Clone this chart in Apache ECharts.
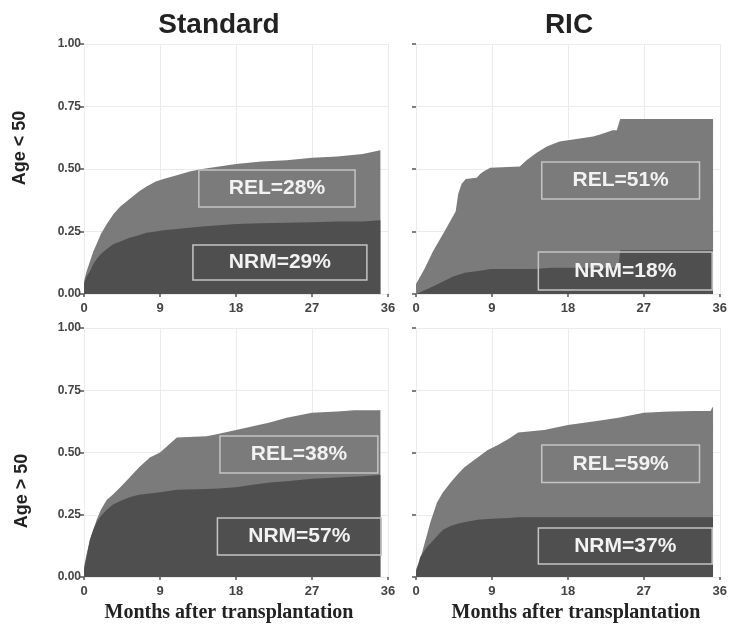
<!DOCTYPE html>
<html>
<head>
<meta charset="utf-8">
<script src="https://cdn.jsdelivr.net/npm/echarts@6/dist/echarts.min.js"></script>
<style>html,body{margin:0;padding:0;background:#fff}#c{width:730px;height:626px}</style>
</head>
<body>
<div id="c"></div>
<script>
// ---- data (months after transplantation, cumulative incidence) ----
var xTicks = [0, 9, 18, 27, 36];
var yTicks = [0, 0.25, 0.5, 0.75, 1];
var colTitles = ['Standard', 'RIC'];
var rowTitles = ['Age < 50', 'Age > 50'];
var xTitle = 'Months after transplantation';

// Standard, Age < 50  (top = NRM + REL, nrm = NRM)
var monthsTopA = [0, 0.3, 0.7, 1.1, 1.5, 2, 2.7, 3.5, 4.3, 5.4, 6.5, 7.4, 8.5, 9.4, 11, 12.5, 14, 16, 18, 21, 24, 27, 30, 33, 35.1];
var topA       = [0.05, 0.09, 0.13, 0.17, 0.20, 0.24, 0.28, 0.32, 0.35, 0.38, 0.41, 0.43, 0.45, 0.46, 0.475, 0.49, 0.50, 0.51, 0.52, 0.53, 0.535, 0.545, 0.55, 0.56, 0.575];
var monthsNrmA = [0, 0.3, 0.7, 1.1, 1.5, 2, 2.7, 3.5, 4.3, 5.4, 6.5, 7.4, 8.5, 9.4, 11, 12.5, 14, 16, 18, 21, 24, 27, 30, 33, 35.1];
var nrmA       = [0.04, 0.07, 0.09, 0.12, 0.14, 0.16, 0.18, 0.20, 0.21, 0.225, 0.235, 0.245, 0.25, 0.255, 0.26, 0.265, 0.27, 0.275, 0.28, 0.283, 0.285, 0.287, 0.29, 0.29, 0.295];

// RIC, Age < 50
var monthsTopB = [0, 1, 2, 3.2, 4.2, 4.7, 5.0, 5.4, 5.9, 7.2, 7.6, 8.0, 8.8, 12.3, 13.1, 14.3, 15.5, 17, 19, 21, 22, 23.3, 23.8, 24.2, 35.2];
var topB       = [0.04, 0.10, 0.17, 0.24, 0.30, 0.33, 0.40, 0.44, 0.46, 0.465, 0.48, 0.49, 0.505, 0.51, 0.535, 0.565, 0.59, 0.61, 0.62, 0.63, 0.64, 0.655, 0.655, 0.70, 0.70];
var monthsNrmB = [0, 1, 2, 3.2, 4.4, 5.8, 8, 8.8, 14, 16, 24, 24.2, 35.2];
var nrmB       = [0, 0.015, 0.03, 0.05, 0.07, 0.085, 0.095, 0.10, 0.10, 0.105, 0.105, 0.175, 0.175];

// Standard, Age > 50
var monthsTopC = [0, 0.3, 0.7, 1.1, 1.5, 2, 2.7, 3.4, 4.3, 5.4, 6.5, 7.8, 9, 10, 11, 14.5, 16, 18, 20, 22, 24, 25.5, 27, 30, 32, 35.1];
var topC       = [0.04, 0.09, 0.15, 0.19, 0.23, 0.27, 0.31, 0.33, 0.36, 0.40, 0.44, 0.48, 0.50, 0.53, 0.56, 0.565, 0.575, 0.59, 0.605, 0.62, 0.64, 0.65, 0.66, 0.665, 0.67, 0.67];
var monthsNrmC = [0, 0.3, 0.7, 1.1, 1.5, 2, 2.7, 3.4, 4.3, 5.4, 6.5, 7.8, 9, 10, 11, 14.5, 16, 18, 20, 22, 24, 25.5, 27, 30, 33, 35.1];
var nrmC       = [0.03, 0.08, 0.15, 0.19, 0.22, 0.245, 0.27, 0.29, 0.305, 0.32, 0.33, 0.335, 0.34, 0.345, 0.35, 0.353, 0.355, 0.36, 0.37, 0.38, 0.385, 0.39, 0.395, 0.40, 0.405, 0.41];

// RIC, Age > 50
var monthsTopD = [0, 0.5, 0.9, 1.3, 1.7, 2.1, 2.5, 3.2, 4.1, 5, 5.7, 6.5, 7.3, 8.5, 9.7, 11, 12.1, 15.2, 18, 21, 24, 27, 30, 33, 34.9, 35.2];
var topD       = [0.03, 0.07, 0.12, 0.17, 0.22, 0.26, 0.30, 0.34, 0.38, 0.415, 0.44, 0.46, 0.48, 0.51, 0.53, 0.555, 0.58, 0.59, 0.61, 0.625, 0.64, 0.66, 0.665, 0.667, 0.667, 0.685];
var monthsNrmD = [0, 0.5, 0.9, 1.3, 1.7, 2.1, 2.5, 3.2, 4.1, 5, 5.7, 6.5, 7.3, 8.5, 9.7, 11, 12.1, 35.2];
var nrmD       = [0.02, 0.08, 0.10, 0.12, 0.135, 0.15, 0.165, 0.19, 0.205, 0.215, 0.22, 0.225, 0.23, 0.233, 0.235, 0.237, 0.24, 0.24];

var relLabels = ['REL=28%', 'REL=51%', 'REL=38%', 'REL=59%'];
var nrmLabels = ['NRM=29%', 'NRM=18%', 'NRM=57%', 'NRM=37%'];
// label boxes in data units: [x1, x2, y1, y2]
var relBoxes = [[13.6, 32.1, 0.348, 0.496], [14.9, 33.6, 0.38, 0.528], [16.1, 34.8, 0.418, 0.566], [14.9, 33.6, 0.38, 0.53]];
var nrmBoxes = [[12.9, 33.5, 0.056, 0.196], [14.5, 35.1, 0.016, 0.168], [15.8, 35.2, 0.088, 0.237], [14.5, 35.1, 0.052, 0.197]];

var panels = [
  [monthsTopA, topA, monthsNrmA, nrmA],
  [monthsTopB, topB, monthsNrmB, nrmB],
  [monthsTopC, topC, monthsNrmC, nrmC],
  [monthsTopD, topD, monthsNrmD, nrmD]
];

var REL_COLOR = '#7b7b7b';
var NRM_COLOR = '#4f4f4f';

var grids = [
  {left: 84, width: 304, top: 44, height: 250},
  {left: 416, width: 304, top: 44, height: 250},
  {left: 84, width: 304, top: 328, height: 249},
  {left: 416, width: 304, top: 328, height: 249}
];

function pairs(xs, ys) { return xs.map(function (x, k) { return [x, ys[k]]; }); }

function makeBoxRenderer(labels) {
  return function (params, api) {
    var p1 = api.coord([api.value(0), api.value(3)]);
    var p2 = api.coord([api.value(1), api.value(2)]);
    var cx = (p1[0] + p2[0]) / 2, cy = (p1[1] + p2[1]) / 2;
    return {
      type: 'group',
      children: [
        {type: 'rect', shape: {x: p1[0], y: p1[1], width: p2[0] - p1[0], height: p2[1] - p1[1]},
          style: {fill: 'rgba(0,0,0,0)', stroke: '#c4c4c4', lineWidth: 1.5}},
        {type: 'text', x: cx, y: cy,
          style: {text: labels[params.dataIndex], x: 0, y: 0, align: 'center', verticalAlign: 'middle',
            textAlign: 'center', textVerticalAlign: 'middle',
            fill: '#f2f2f2', font: 'bold 21px "Liberation Sans"'}}
      ]
    };
  };
}

var xAxes = [], yAxes = [], series = [];
for (var i = 0; i < 4; i++) {
  xAxes.push({
    type: 'value', gridIndex: i, min: xTicks[0], max: xTicks[xTicks.length - 1], interval: 9,
    axisLine: {show: false},
    axisTick: {show: true, length: 3, lineStyle: {color: '#555', width: 1.5}},
    axisLabel: {margin: 8, color: '#444', fontFamily: 'Liberation Sans', fontWeight: 'bold', fontSize: 13},
    splitLine: {show: true, lineStyle: {color: '#ebebeb', width: 1}}
  });
  yAxes.push({
    type: 'value', gridIndex: i, min: yTicks[0], max: yTicks[yTicks.length - 1], interval: 0.25,
    axisLine: {show: false},
    axisTick: {show: true, length: 4, lineStyle: {color: '#555', width: 1.5}},
    axisLabel: {show: i % 2 === 0, margin: 3, color: '#444', fontFamily: 'Liberation Sans', fontWeight: 'bold', fontSize: 12,
      formatter: function (v) { return v.toFixed(2); }},
    splitLine: {show: true, lineStyle: {color: '#ebebeb', width: 1}}
  });
  var p = panels[i];
  series.push({
    name: 'REL', type: 'line', xAxisIndex: i, yAxisIndex: i,
    data: pairs(p[0], p[1]), showSymbol: false, symbol: 'none',
    lineStyle: {width: 0, color: REL_COLOR}, areaStyle: {color: REL_COLOR, opacity: 1},
    silent: true, z: 2
  });
  series.push({
    name: 'NRM', type: 'line', xAxisIndex: i, yAxisIndex: i,
    data: pairs(p[2], p[3]), showSymbol: false, symbol: 'none',
    lineStyle: {width: 0, color: NRM_COLOR}, areaStyle: {color: NRM_COLOR, opacity: 1},
    silent: true, z: 3
  });
  series.push({
    name: 'labels', type: 'custom', xAxisIndex: i, yAxisIndex: i, z: 10, silent: true,
    data: [relBoxes[i], nrmBoxes[i]],
    renderItem: makeBoxRenderer([relLabels[i], nrmLabels[i]])
  });
}

function txt(s, x, y, font, rot) {
  return {type: 'text', position: [x, y], rotation: rot || 0, z: 20,
    style: {text: s, x: 0, y: 0, textAlign: 'center', textVerticalAlign: 'middle', fill: '#222', font: font}};
}

var chart = echarts.init(document.getElementById('c'), null, {renderer: 'canvas'});
chart.setOption({
  backgroundColor: '#ffffff',
  animation: false,
  grid: grids,
  xAxis: xAxes,
  yAxis: yAxes,
  series: series,
  graphic: [
    txt(colTitles[0], 219, 25, 'bold 28px "Liberation Sans"'),
    txt(colTitles[1], 569, 25, 'bold 28px "Liberation Sans"'),
    txt(rowTitles[0], 20, 148, 'bold 18px "Liberation Sans"', Math.PI / 2),
    txt(rowTitles[1], 22, 491, 'bold 18px "Liberation Sans"', Math.PI / 2),
    txt(xTitle, 229, 613, 'bold 20px "Liberation Serif"'),
    txt(xTitle, 576, 613, 'bold 20px "Liberation Serif"')
  ]
});
</script>
</body>
</html>
